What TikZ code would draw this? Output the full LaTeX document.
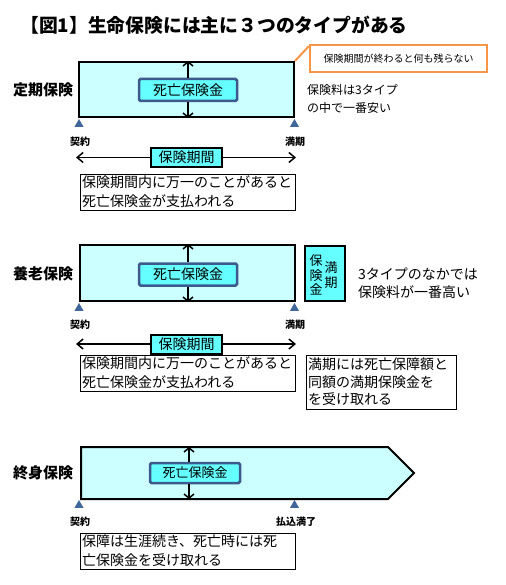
\documentclass[tikz,border=0pt]{standalone}
\usepackage{fontspec}
\setmainfont{Noto Sans CJK JP}
\usepackage{xcolor}
\usetikzlibrary{arrows.meta,shapes.geometric}

\definecolor{boxcyan}{HTML}{CCFFFF}
\definecolor{paycyan}{HTML}{66FFFF}
\definecolor{paydraw}{HTML}{3D5A8C}
\definecolor{tridraw}{HTML}{41679A}
\definecolor{noteorange}{HTML}{F79646}

\newcommand{\jpsize}[2]{\fontsize{#1}{#2}\selectfont}

\begin{document}
\begin{tikzpicture}[x=1pt, y=-1pt,
  every node/.style={inner sep=0pt},
  kind/.style={font=\bfseries\jpsize{15}{15}},
  bigbox/.style={draw, line width=2pt, fill=boxcyan, minimum width=215pt, minimum height=55pt},
  paybox/.style={draw=paydraw, line width=2.5pt, fill=paycyan, rounded corners=1.5pt,
    minimum width=98pt, minimum height=22pt, font=\jpsize{14}{14}},
  periodbox/.style={draw, line width=2pt, fill=paycyan, minimum width=71pt, minimum height=19pt,
    font=\jpsize{14}{14}},
  descbox/.style={draw, line width=0.9pt, align=left, inner xsep=2pt, text width=211pt,
    minimum height=36pt, font=\jpsize{14}{19}},
  tri/.style={regular polygon, regular polygon sides=3, fill=tridraw, minimum size=10.4pt, anchor=south},
  tick/.style={font=\bfseries\jpsize{10}{10}},
  side/.style={anchor=west, align=left},
  vdbl/.style={line width=1.5pt, -{Straight Barb[length=4pt, width=10pt]}},
  hdbl/.style={line width=1.5pt, -{Straight Barb[length=6pt, width=10pt]}}]
\useasboundingbox (0,0) rectangle (505,585);

\node[anchor=west, font=\bfseries\jpsize{18.8}{18.8}] (title) at (20,25) {【図1】生命保険には主に３つのタイプがある};

% teiki hoken
\node[kind] (s1kind) at (43,90) {定期保険};
\node[bigbox] (s1box) at (186.5,89.5) {};
\node[paybox] (s1in) at (188,90) {死亡保険金};
\draw[vdbl] (s1in.north) -- (s1in.north |- s1box.north);
\draw[vdbl] (s1in.south) -- (s1in.south |- s1box.south);
\node[draw=noteorange, line width=2pt, minimum width=177pt, minimum height=27pt,
  font=\jpsize{10}{10}] (s1note) at (398.5,58.5) {保険期間が終わると何も残らない};
\draw[noteorange, line width=2pt] (s1box.north east) -- ([yshift=-2pt]s1note.north west);
\node[side, font=\jpsize{12}{18}] (s1text) at (307,99) {保険料は3タイプ\\の中で一番安い};
\node[tri] (s1start) at (79,127) {};
\node[tri] (s1end) at (294.5,127) {};
\node[tick] (s1startlbl) at (80,142) {契約};
\node[tick] (s1endlbl) at (295,142) {満期};
\node[periodbox] (s1per) at (186.5,157.5) {保険期間};
\coordinate (s1l) at (76,157.5);
\coordinate (s1r) at (296,157.5);
\draw[hdbl] (s1per.west) -- (s1l);
\draw[hdbl] (s1per.east) -- (s1r);
\node[descbox] (s1desc) at (187.5,192) {保険期間内に万一のことがあると\\死亡保険金が支払われる};

% yourou hoken
\node[kind] (s2kind) at (43,274) {養老保険};
\node[bigbox, minimum height=56pt] (s2box) at (187,273) {};
\node[paybox] (s2in) at (188,274.5) {死亡保険金};
\draw[vdbl] (s2in.north) -- (s2in.north |- s2box.north);
\draw[vdbl] (s2in.south) -- (s2in.south |- s2box.south);
\node[draw, line width=2pt, fill=paycyan, minimum width=40pt, minimum height=55pt] (s2mat) at (325,273.5) {};
\node[align=center, font=\jpsize{13}{14.5}] (s2matl) at (316,275) {保\\険\\金};
\node[align=center, font=\jpsize{13}{14.5}] (s2matr) at (331,275) {満\\期};
\node[side, font=\jpsize{14}{18}] (s2text) at (358,283) {3タイプのなかでは\\保険料が一番高い};
\node[tri] (s2start) at (79,311) {};
\node[tri] (s2end) at (294.5,311) {};
\node[tick] (s2startlbl) at (80,325) {契約};
\node[tick] (s2endlbl) at (295,325) {満期};
\node[periodbox] (s2per) at (186.5,344) {保険期間};
\coordinate (s2l) at (76,344);
\coordinate (s2r) at (296,344);
\draw[hdbl] (s2per.west) -- (s2l);
\draw[hdbl] (s2per.east) -- (s2r);
\node[descbox] (s2desc) at (187.5,373) {保険期間内に万一のことがあると\\死亡保険金が支払われる};
\node[descbox, text width=146pt, minimum height=54pt, font=\jpsize{14}{17.5}] (s2mdesc) at (381,382)
  {満期には死亡保障額と\\同額の満期保険金を\\を受け取れる};

% shuushin hoken
\node[kind] (s3kind) at (43,473) {終身保険};
\draw[line width=2pt, fill=boxcyan, line join=miter]
  (81,447) coordinate (s3top) -- (388,447) -- (414,473) -- (388,499) -- (81,499) coordinate (s3bot) -- cycle;
\node[paybox, minimum width=90pt, minimum height=20pt, font=\jpsize{13}{13}] (s3in) at (195,473) {死亡保険金};
\coordinate (s3ax) at (189,473);
\draw[vdbl] (s3ax |- s3in.north) -- (s3ax |- s3top);
\draw[vdbl] (s3ax |- s3in.south) -- (s3ax |- s3bot);
\node[tri] (s3start) at (79,508) {};
\node[tri] (s3end) at (294.5,508) {};
\node[tick] (s3startlbl) at (80,522) {契約};
\node[tick] (s3endlbl) at (296,522) {払込満了};
\node[descbox] (s3desc) at (187.5,551) {保障は生涯続き、死亡時には死\\亡保険金を受け取れる};
\end{tikzpicture}
\end{document}
